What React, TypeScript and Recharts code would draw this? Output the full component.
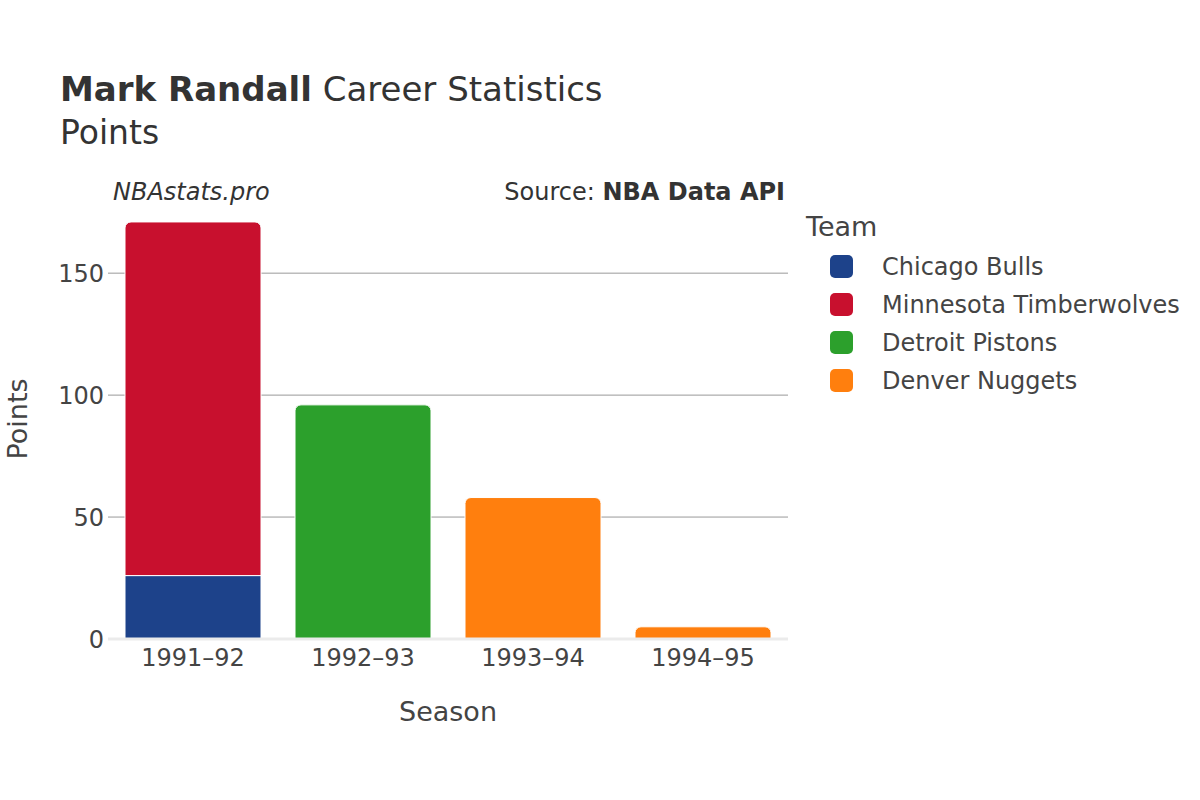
import React from 'react';
import { BarChart, Bar, XAxis, YAxis, CartesianGrid } from 'recharts';

const seasons = ['1991–92', '1992–93', '1993–94', '1994–95'];
const bulls = [26, null, null, null];
const timberwolves = [145, null, null, null];
const pistons = [null, 96, null, null];
const nuggets = [null, null, 58, 5];
const yTicks = [0, 50, 100, 150];
const gridValues = [50, 100, 150];

const teams = [
  { key: 'bulls', name: 'Chicago Bulls', color: '#1d428a' },
  { key: 'timberwolves', name: 'Minnesota Timberwolves', color: '#c8102e' },
  { key: 'pistons', name: 'Detroit Pistons', color: '#2ca02c' },
  { key: 'nuggets', name: 'Denver Nuggets', color: '#ff7f0e' },
];

const data = seasons.map((season, i) => ({
  season,
  bulls: bulls[i],
  timberwolves: timberwolves[i],
  pistons: pistons[i],
  nuggets: nuggets[i],
}));

const FONT = '"DejaVu Sans", Verdana, sans-serif';
const TEXT = '#444';

export default function App() {
  return (
    <div style={{ position: 'absolute', left: 0, top: 0, width: 1200, height: 800, background: '#fff', fontFamily: FONT }}>
      <BarChart
        width={1200}
        height={800}
        data={data}
        margin={{ top: 200, right: 412, bottom: 0, left: 0 }}
        barCategoryGap="10%"
      >
        <CartesianGrid vertical={false} horizontalValues={gridValues} stroke="#999" strokeWidth={1} />
        <XAxis
          dataKey="season"
          height={161}
          tickSize={0}
          tickMargin={10}
          axisLine={{ stroke: '#ebebeb', strokeWidth: 3 }}
          tick={{ fontSize: 24, fill: TEXT, fontFamily: FONT }}
        />
        <YAxis
          width={108}
          domain={[0, 180]}
          ticks={yTicks}
          tickSize={0}
          tickMargin={4}
          axisLine={false}
          tick={{ fontSize: 24, fill: TEXT, fontFamily: FONT }}
        />
        {teams.map((t) => (
          <Bar
            key={t.key}
            dataKey={t.key}
            stackId="a"
            fill={t.color}
            stroke="#fff"
            strokeWidth={1}
            radius={t.key === 'bulls' ? 0 : [6, 6, 0, 0]}
            isAnimationActive={false}
          />
        ))}
      </BarChart>
      <svg
        width={1200}
        height={800}
        style={{ position: 'absolute', left: 0, top: 0, pointerEvents: 'none' }}
        fontFamily={FONT}
      >
        <text x={60} y={101} fontSize={34} fill="#333">
          <tspan fontWeight="bold">Mark Randall</tspan>
          <tspan> Career Statistics</tspan>
        </text>
        <text x={60} y={144} fontSize={33} fill="#333">Points</text>
        <text x={113} y={200} fontSize={24} fill="#333" fontStyle="italic">NBAstats.pro</text>
        <text x={785} y={200} fontSize={24} fill="#333" textAnchor="end">
          <tspan>Source: </tspan>
          <tspan fontWeight="bold">NBA Data API</tspan>
        </text>
        <text x={448} y={721} fontSize={27} fill={TEXT} textAnchor="middle">Season</text>
        <text
          x={27}
          y={419}
          fontSize={27}
          fill={TEXT}
          textAnchor="middle"
          transform="rotate(-90 27 419)"
        >
          Points
        </text>
        <text x={806} y={236} fontSize={27} fill={TEXT}>Team</text>
        {teams.map((t, i) => (
          <g key={t.key}>
            <rect x={830} y={255 + i * 38} width={23} height={23} rx={5} fill={t.color} />
            <text x={882} y={275 + i * 38} fontSize={24} fill={TEXT}>{t.name}</text>
          </g>
        ))}
      </svg>
    </div>
  );
}
